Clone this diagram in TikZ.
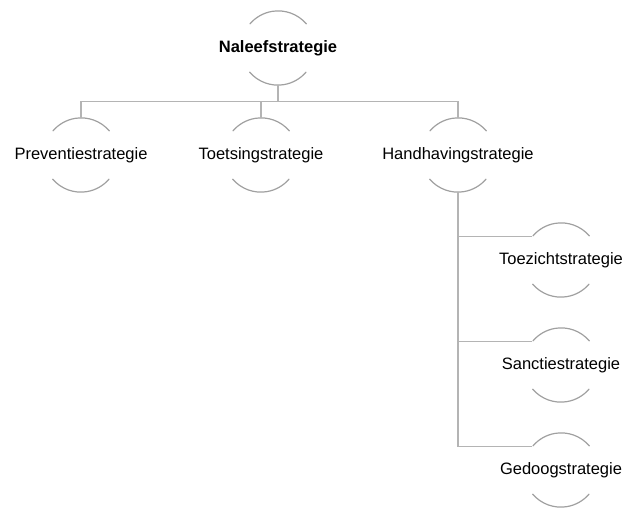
\documentclass[tikz,border=0pt]{standalone}
\usepackage{fontspec}
\setmainfont{Liberation Sans}
\usetikzlibrary{positioning,calc}
\definecolor{linegray}{HTML}{B4B4B4}
\definecolor{arcgray}{HTML}{A0A0A0}

\begin{document}
\begin{tikzpicture}[x=1pt,y=-1pt,
  ring/.style={circle,minimum size=74pt,inner sep=0pt},
  lbl/.style={font=\fontsize{16.5}{19}\selectfont,text=black,inner sep=0pt},
  conn/.style={draw=linegray,line width=1.2pt},
  rim/.style={draw=arcgray,line width=1.2pt}]
  \useasboundingbox (0,0) rectangle (627,509);
  % rings
  \node[ring] (top) at (278,48) {};
  \node[ring] (prev) at (81,155) {};
  \node[ring] (toets) at (261,155) {};
  \node[ring] (hand) at (458,155) {};
  \node[ring] (toez) at (561,260) {};
  \node[ring] (sanc) at (561,365) {};
  \node[ring] (gedo) at (561,470) {};
  \foreach \n in {top,prev,toets,hand,toez,sanc,gedo} {
    \draw[rim] (\n.40) arc[start angle=40,end angle=140,radius=37pt];
    \draw[rim] (\n.220) arc[start angle=220,end angle=320,radius=37pt];
  }
  % labels
  \node[lbl,font=\fontsize{16.5}{19}\selectfont\bfseries] (top-t) at (top) {Naleefstrategie};
  \node[lbl] (prev-t) at (prev) {Preventiestrategie};
  \node[lbl] (toets-t) at (toets) {Toetsingstrategie};
  \node[lbl] (hand-t) at (hand) {Handhavingstrategie};
  \node[lbl] (toez-t) at (toez) {Toezichtstrategie};
  \node[lbl] (sanc-t) at (sanc) {Sanctiestrategie};
  \node[lbl] (gedo-t) at (gedo) {Gedoogstrategie};
  % connectors
  \foreach \c in {prev,toets,hand} \draw[conn] (top.south) -- ++(0,16) -| (\c.north);
  \foreach \c in {toez,sanc,gedo} \draw[conn] (hand.south) |- (\c.141);
\end{tikzpicture}
\end{document}
